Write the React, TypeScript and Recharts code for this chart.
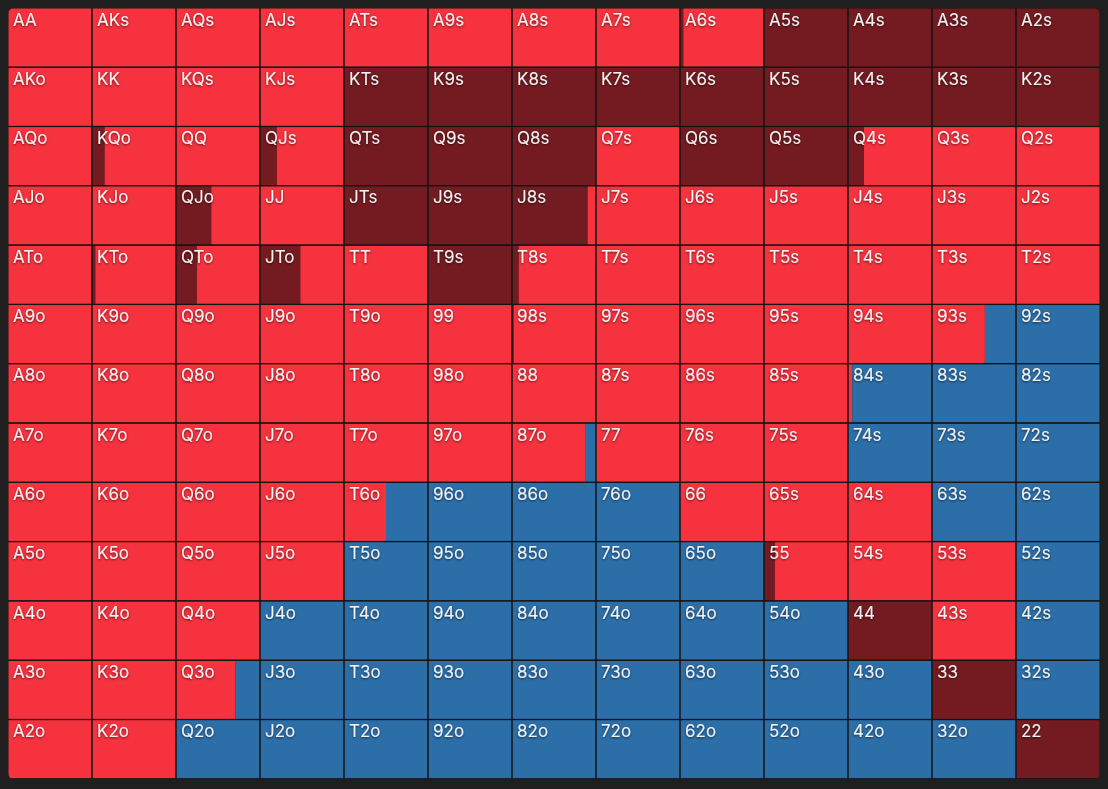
import { Bar, BarChart, LabelList, XAxis, YAxis } from "recharts";

const ranks = ["A", "K", "Q", "J", "T", "9", "8", "7", "6", "5", "4", "3", "2"];

// share of each hand: strong raise (dark red), raise (red), fold (blue)
const strong = [
  [0, 0, 0, 0, 0, 0, 0, 0, 0.04, 1, 1, 1, 1],
  [0, 0, 0, 0, 1, 1, 1, 1, 1, 1, 1, 1, 1],
  [0, 0.15, 0, 0.2, 1, 1, 1, 0, 1, 1, 0.19, 0, 0],
  [0, 0, 0.42, 0, 1, 1, 0.9, 0, 0, 0, 0, 0, 0],
  [0, 0.04, 0.25, 0.48, 0, 1, 0.08, 0, 0, 0, 0, 0, 0],
  [0, 0, 0, 0, 0, 0, 0.02, 0, 0, 0, 0, 0, 0],
  [0, 0, 0, 0, 0, 0, 0, 0, 0, 0, 0, 0, 0],
  [0, 0, 0, 0, 0, 0, 0, 0, 0, 0, 0, 0, 0],
  [0, 0, 0, 0, 0, 0, 0, 0, 0, 0, 0, 0, 0],
  [0, 0, 0, 0, 0, 0, 0, 0, 0, 0.13, 0, 0, 0],
  [0, 0, 0, 0, 0, 0, 0, 0, 0, 0, 1, 0, 0],
  [0, 0, 0, 0, 0, 0, 0, 0, 0, 0, 0, 1, 0],
  [0, 0, 0, 0, 0, 0, 0, 0, 0, 0, 0, 0, 1],
];

const raise = [
  [1, 1, 1, 1, 1, 1, 1, 1, 0.96, 0, 0, 0, 0],
  [1, 1, 1, 1, 0, 0, 0, 0, 0, 0, 0, 0, 0],
  [1, 0.85, 1, 0.8, 0, 0, 0, 1, 0, 0, 0.81, 1, 1],
  [1, 1, 0.58, 1, 0, 0, 0.1, 1, 1, 1, 1, 1, 1],
  [1, 0.96, 0.75, 0.52, 1, 0, 0.92, 1, 1, 1, 1, 1, 1],
  [1, 1, 1, 1, 1, 1, 0.98, 1, 1, 1, 1, 0.63, 0],
  [1, 1, 1, 1, 1, 1, 1, 1, 1, 1, 0.05, 0, 0],
  [1, 1, 1, 1, 1, 1, 0.87, 1, 1, 1, 0, 0, 0],
  [1, 1, 1, 1, 0.5, 0, 0, 0, 1, 1, 1, 0, 0],
  [1, 1, 1, 1, 0, 0, 0, 0, 0, 0.87, 1, 1, 0],
  [1, 1, 1, 0, 0, 0, 0, 0, 0, 0, 0, 1, 0],
  [1, 1, 0.71, 0, 0, 0, 0, 0, 0, 0, 0, 0, 0],
  [1, 1, 0, 0, 0, 0, 0, 0, 0, 0, 0, 0, 0],
];

const fold = [
  [0, 0, 0, 0, 0, 0, 0, 0, 0, 0, 0, 0, 0],
  [0, 0, 0, 0, 0, 0, 0, 0, 0, 0, 0, 0, 0],
  [0, 0, 0, 0, 0, 0, 0, 0, 0, 0, 0, 0, 0],
  [0, 0, 0, 0, 0, 0, 0, 0, 0, 0, 0, 0, 0],
  [0, 0, 0, 0, 0, 0, 0, 0, 0, 0, 0, 0, 0],
  [0, 0, 0, 0, 0, 0, 0, 0, 0, 0, 0, 0.37, 1],
  [0, 0, 0, 0, 0, 0, 0, 0, 0, 0, 0.95, 1, 1],
  [0, 0, 0, 0, 0, 0, 0.13, 0, 0, 0, 1, 1, 1],
  [0, 0, 0, 0, 0.5, 1, 1, 1, 0, 0, 0, 1, 1],
  [0, 0, 0, 0, 1, 1, 1, 1, 1, 0, 0, 0, 1],
  [0, 0, 0, 1, 1, 1, 1, 1, 1, 1, 0, 0, 1],
  [0, 0, 0.29, 1, 1, 1, 1, 1, 1, 1, 1, 0, 1],
  [0, 0, 1, 1, 1, 1, 1, 1, 1, 1, 1, 1, 0],
];

const W = 1092;
const H = 771;
const cols = ranks.map((_, c) => c);

function handName(r: number, c: number) {
  if (r === c) return ranks[r] + ranks[c];
  if (r < c) return ranks[r] + ranks[c] + "s";
  return ranks[c] + ranks[r] + "o";
}

const rows = ranks.map((rank, r) => {
  const row: Record<string, string | number> = { rank };
  cols.forEach((c) => {
    row[`d${c}`] = strong[r][c];
    row[`r${c}`] = raise[r][c];
    row[`b${c}`] = fold[r][c];
    row[`t${c}`] = strong[r][c] + raise[r][c] + fold[r][c];
    row[`n${c}`] = handName(r, c);
  });
  return row;
});

function HandLabel(props: any) {
  const { x, y, value } = props;
  return (
    <text
      x={Number(x) + 5}
      y={Number(y) + 17.5}
      fill="#f2f2f2"
      fontSize={17}
      fontFamily="Inter, 'Noto Sans', sans-serif"
      filter="url(#shadow)"
    >
      {value}
    </text>
  );
}

const axes = (
  <>
    <XAxis type="number" domain={[0, 13]} allowDataOverflow hide />
    <YAxis type="category" dataKey="rank" hide />
  </>
);

export default function App() {
  return (
    <div style={{ position: "absolute", left: 0, top: 0, width: 1108, height: 789, background: "#1f1f1f" }}>
      <div
        style={{
          position: "absolute",
          left: 8,
          top: 8,
          width: W,
          height: H,
          borderRadius: 6,
          overflow: "hidden",
          background: "#151515",
        }}
      >
        <div style={{ position: "absolute", left: 0, top: 0 }}>
          <BarChart width={W} height={H} data={rows} layout="vertical" margin={{ top: 0, right: 0, left: 0, bottom: 0 }} barCategoryGap={0} barGap={0}>
            {axes}
            {cols.flatMap((c) => [
              <Bar key={`d${c}`} dataKey={`d${c}`} stackId="h" fill="#731b21" isAnimationActive={false} />,
              <Bar key={`r${c}`} dataKey={`r${c}`} stackId="h" fill="#f5323e" isAnimationActive={false} />,
              <Bar key={`b${c}`} dataKey={`b${c}`} stackId="h" fill="#2c6ea8" isAnimationActive={false} />,
            ])}
          </BarChart>
        </div>
        <div style={{ position: "absolute", left: 0, top: 0 }}>
          <BarChart width={W} height={H} data={rows} layout="vertical" margin={{ top: 0, right: 0, left: 0, bottom: 0 }} barCategoryGap={0} barGap={0}>
            <defs>
              <filter id="shadow" x="-20%" y="-20%" width="140%" height="160%">
                <feDropShadow dx="0" dy="1" stdDeviation="1" floodColor="#000" floodOpacity="0.6" />
              </filter>
            </defs>
            {axes}
            {cols.map((c) => (
              <Bar key={`t${c}`} dataKey={`t${c}`} stackId="cell" fill="none" stroke="#141414" strokeWidth={1} isAnimationActive={false}>
                <LabelList dataKey={`n${c}`} content={HandLabel} />
              </Bar>
            ))}
          </BarChart>
        </div>
      </div>
    </div>
  );
}
